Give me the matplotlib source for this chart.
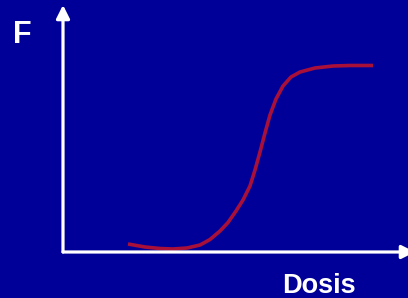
import matplotlib.pyplot as plt

# curva dosis-respuesta (origen en la esquina de los ejes)
dosis = [65, 82, 97, 110, 124, 137, 147, 157, 165, 173, 180, 187, 192, 197,
         202, 207, 213, 220, 228, 237, 252, 270, 287, 310]
efecto = [8, 5, 3.5, 3, 4, 7, 12.5, 21, 29.5, 41, 52, 66, 82, 100,
          119, 137, 153, 166, 175, 180, 184, 186, 186.5, 186.5]

etiqueta_y = "F"
etiqueta_x = "Dosis"

fondo = "#000099"
rojo = "#A8103A"

fig = plt.figure(figsize=(4.08, 2.98), dpi=100)
fig.patch.set_facecolor(fondo)
ax = fig.add_axes([0, 0, 1, 1])
ax.set_facecolor(fondo)
ax.set_xlim(-63, 345)
ax.set_ylim(-46, 252)
ax.axis("off")

# ejes con flechas
flecha = dict(arrowstyle="-|>,head_length=0.8,head_width=0.4", lw=2.3,
              color="white", mutation_scale=10, shrinkA=0, shrinkB=0)
ax.annotate("", xy=(0, 247), xytext=(0, 0), arrowprops=flecha,
            annotation_clip=False)
ax.annotate("", xy=(352, 0), xytext=(0, 0), arrowprops=flecha,
            annotation_clip=False)

ax.plot(dosis, efecto, color=rojo, lw=2.6, solid_capstyle="butt",
        solid_joinstyle="round")

ax.text(-50, 209, etiqueta_y, color="white", fontsize=22, fontweight="bold",
        family="Liberation Sans", ha="left", va="baseline")
ax.text(219, -41, etiqueta_x, color="white", fontsize=19.5, fontweight="bold",
        family="Liberation Sans", ha="left", va="baseline")

plt.savefig("out.png", dpi=100, facecolor=fondo)
